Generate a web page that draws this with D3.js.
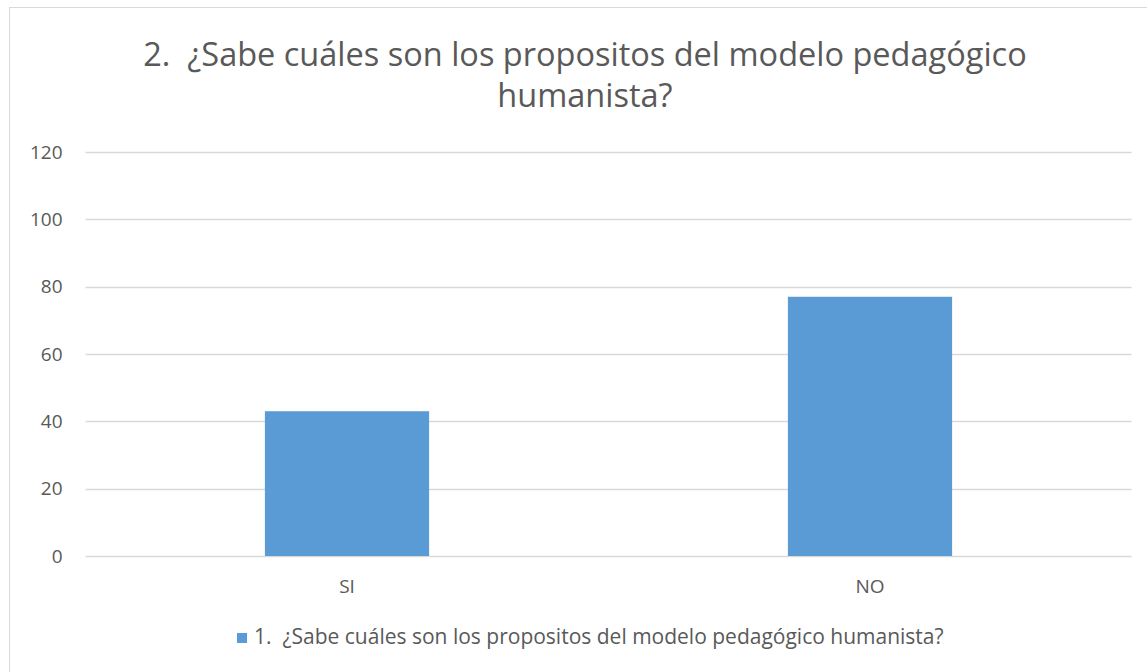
<!DOCTYPE html>
<html>
<head>
<meta charset="utf-8">
<script src="https://cdn.jsdelivr.net/npm/d3@7"></script>
<style>
  body { margin: 0; background: #fff; }
  text { font-family: "Open Sans", sans-serif; fill: #595959; white-space: pre; }
</style>
</head>
<body>
<div id="chart"></div>
<script>
// data
var categories = ["SI", "NO"];
var values = [43, 77];
var yTicks = [0, 20, 40, 60, 80, 100, 120];
var titleLines = ["2.  ¿Sabe cuáles son los propositos del modelo pedagógico", "humanista?"];
var seriesName = "1.  ¿Sabe cuáles son los propositos del modelo pedagógico humanista?";

var w = 1147, h = 672;
var margin = { top: 152, right: 15.5, bottom: 116, left: 85.5 },
    width = w - margin.left - margin.right,
    height = h - margin.top - margin.bottom;

var svg = d3.select("#chart")
    .append("svg")
    .attr("width", w)
    .attr("height", h);

// chart border
svg.append("rect")
    .attr("x", 9.5)
    .attr("y", 7.5)
    .attr("width", 1160)
    .attr("height", 700)
    .attr("fill", "none")
    .attr("stroke", "#d9d9d9");

var g = svg.append("g")
    .attr("transform", "translate(" + margin.left + "," + margin.top + ")");

var x = d3.scaleBand()
    .domain(categories)
    .range([0, width])
    .paddingInner(0.686)
    .paddingOuter(0.343);

var y = d3.scaleLinear()
    .domain([0, 120])
    .range([height, 0]);

// gridlines
g.append("g")
    .selectAll("line")
    .data(yTicks)
    .enter().append("line")
    .attr("x1", 0)
    .attr("x2", width)
    .attr("y1", function(d) { return Math.round(y(d)) + 0.5; })
    .attr("y2", function(d) { return Math.round(y(d)) + 0.5; })
    .attr("stroke", "#d9d9d9")
    .attr("stroke-width", 1.3);

// bars
g.selectAll(".bar")
    .data(values)
    .enter().append("rect")
    .attr("class", "bar")
    .attr("x", function(d, i) { return x(categories[i]); })
    .attr("width", x.bandwidth())
    .attr("y", function(d) { return y(d); })
    .attr("height", function(d) { return height - y(d); })
    .attr("fill", "#5b9bd5");

// y axis
var yAxis = g.append("g")
    .call(d3.axisLeft(y).tickValues(yTicks).tickSize(0).tickPadding(23));
yAxis.select(".domain").remove();
yAxis.selectAll("text")
    .style("font-family", "Open Sans, sans-serif")
    .style("font-size", "19px")
    .attr("fill", "#595959");

// x axis
var xAxis = g.append("g")
    .attr("transform", "translate(0," + height + ")")
    .call(d3.axisBottom(x).tickSize(0).tickPadding(24));
xAxis.select(".domain").remove();
xAxis.selectAll("text")
    .style("font-family", "Open Sans, sans-serif")
    .style("font-size", "19px")
    .attr("fill", "#595959");

// title
svg.append("g")
    .selectAll("text")
    .data(titleLines)
    .enter().append("text")
    .attr("x", 585)
    .attr("y", function(d, i) { return 66 + i * 41; })
    .attr("text-anchor", "middle")
    .style("font-size", "32.5px")
    .text(function(d) { return d; });

// legend
svg.append("rect")
    .attr("x", 237)
    .attr("y", 633)
    .attr("width", 10)
    .attr("height", 10)
    .attr("fill", "#5b9bd5");
svg.append("text")
    .attr("x", 254)
    .attr("y", 638)
    .attr("dominant-baseline", "middle")
    .style("font-size", "21px")
    .text(seriesName);
</script>
</body>
</html>
